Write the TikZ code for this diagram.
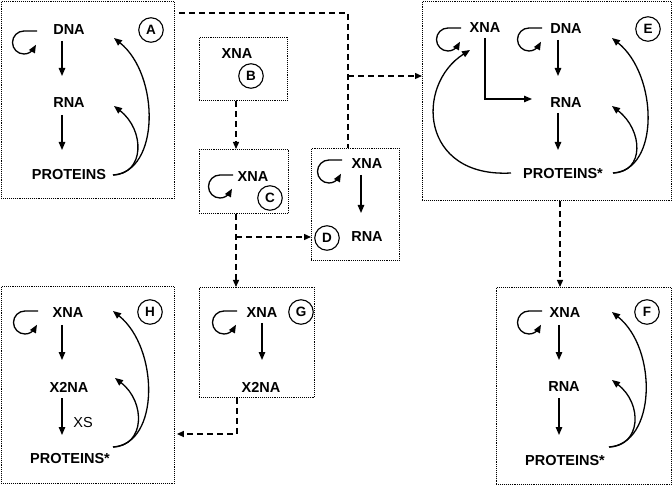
\documentclass[tikz,border=0pt]{standalone}
\usepackage{fontspec}
\setmainfont{Liberation Sans}
\usetikzlibrary{arrows.meta}
\newcommand\drawselfloop[1]{\draw[arr,shift={#1}] (0,0) -- (-13,0)
     .. controls (-19.35,0) and (-24.5,5.15) .. (-24.5,11.5)
     .. controls (-24.5,17.85) and (-19.35,23) .. (-13,23)
     .. controls (-8.89,23) and (-5.09,20.81) .. (-3.04,17.25) -- (-1.04,13.79);}
\begin{document}
\begin{tikzpicture}[x=1pt,y=-1pt,
  box/.style={draw, densely dotted, line width=0.9pt, anchor=north west, inner sep=0pt},
  lbl/.style={font=\bfseries\fontsize{14.5}{16}\selectfont, inner sep=0pt},
  note/.style={font=\fontsize{14.5}{16}\selectfont, inner sep=0pt},
  tag/.style={draw, circle, line width=1.1pt, minimum size=24.5pt, inner sep=0pt, font=\bfseries\fontsize{13.5}{15}\selectfont},
  arr/.style={line width=1.3pt, -{Triangle[length=8pt,width=6.5pt]}},
  dline/.style={line width=1.3pt, dash pattern=on 6pt off 4pt},
  darr/.style={dline, -{Triangle[length=7pt,width=6pt]}}
]
\useasboundingbox (0,0) rectangle (672,486);

% ---------- A
\node[box, minimum width=173pt, minimum height=197pt] (A) at (1,1) {};
\node[lbl] (dA) at (69,30) {DNA};
\node[lbl] (rA) at (69,103) {RNA};
\node[lbl] (pA) at (69,175) {PROTEINS};
\node[tag] (tA) at (151,30) {A};
\drawselfloop{(37,31)}
\draw[arr] ([shift={(-7,11)}]dA.center) -- ([shift={(-7,-27)}]rA.center);
\draw[arr] ([shift={(-7,12)}]rA.center) -- ([shift={(-7,-25)}]pA.center);
\draw[arr] ([shift={(44,0)}]pA.center) .. controls +(47,-3) and +(46,37) .. ([shift={(45,8)}]dA.center);
\draw[arr] ([shift={(44,0)}]pA.center) .. controls +(32,-1) and +(31,24) .. ([shift={(45,3)}]rA.center);

% ---------- B
\node[box, minimum width=88pt, minimum height=63pt] (B) at (199,37) {};
\node[lbl] (xB) at (237,54) {XNA};
\node[tag] (tB) at (251,76) {B};

% ---------- C
\node[box, minimum width=89pt, minimum height=64pt] (C) at (199,149) {};
\node[lbl] (xC) at (253,177) {XNA};
\node[tag] (tC) at (270,198) {C};
\drawselfloop{(233,175)}

% ---------- D
\node[box, minimum width=88pt, minimum height=112pt] (D) at (311,148) {};
\node[lbl] (xD) at (367,164) {XNA};
\node[lbl] (rD) at (367,237) {RNA};
\node[tag] (tD) at (327,238) {D};
\drawselfloop{(342,160)}
\draw[arr] ([shift={(-6,11)}]xD.center) -- ([shift={(-6,-24)}]rD.center);

% ---------- E
\node[box, minimum width=249pt, minimum height=199pt] (E) at (422,1) {};
\node[lbl] (xE) at (485,28) {XNA};
\node[lbl] (dE) at (566,29) {DNA};
\node[lbl] (rE) at (566,103) {RNA};
\node[lbl] (pE) at (563,174) {PROTEINS*};
\node[tag] (tE) at (648,29) {E};
\drawselfloop{(461,28)}
\drawselfloop{(542,28)}
\draw[arr] ([shift={(-8,11)}]dE.center) -- ([shift={(-8,-27)}]rE.center);
\draw[arr] ([shift={(-8,10)}]rE.center) -- ([shift={(-5,-24)}]pE.center);
\draw[arr] ([shift={(0,10)}]xE.center) |- ([shift={(-34,-4)}]rE.center);
\draw[arr] ([shift={(-52,-1)}]pE.center) .. controls +(-91,5) and +(-55,35) .. ([shift={(-15,22)}]xE.center);
\draw[arr] ([shift={(50,-1)}]pE.center) .. controls +(47,-3) and +(46,37) .. ([shift={(46,9)}]dE.center);
\draw[arr] ([shift={(50,-1)}]pE.center) .. controls +(32,-1) and +(31,24) .. ([shift={(46,3)}]rE.center);

% ---------- F
\node[box, minimum width=175pt, minimum height=197pt] (F) at (496,287) {};
\node[lbl] (xF) at (565,313) {XNA};
\node[lbl] (rF) at (564,387) {RNA};
\node[lbl] (pF) at (565,461) {PROTEINS*};
\node[tag] (tF) at (647,312) {F};
\drawselfloop{(542,311)}
\draw[arr] ([shift={(-6,12)}]xF.center) -- ([shift={(-5,-27)}]rF.center);
\draw[arr] ([shift={(-5,11)}]rF.center) -- ([shift={(-6,-26)}]pF.center);
\draw[arr] ([shift={(44,-14)}]pF.center) .. controls +(47,-3) and +(46,37) .. ([shift={(47,-1)}]xF.center);
\draw[arr] ([shift={(44,-14)}]pF.center) .. controls +(32,-1) and +(31,24) .. ([shift={(48,-7)}]rF.center);

% ---------- G
\node[box, minimum width=115pt, minimum height=110pt] (G) at (199,287) {};
\node[lbl] (xG) at (262,313) {XNA};
\node[lbl] (yG) at (261,387) {X2NA};
\node[tag] (tG) at (301,312) {G};
\drawselfloop{(237,311)}
\draw[arr] ([shift={(0,10)}]xG.center) -- ([shift={(1,-27)}]yG.center);

% ---------- H
\node[box, minimum width=173pt, minimum height=197pt] (H) at (1,286) {};
\node[lbl] (xH) at (68,313) {XNA};
\node[lbl] (yH) at (69,387) {X2NA};
\node[lbl] (pH) at (70,459) {PROTEINS*};
\node[note] (sH) at (83,423) {XS};
\node[tag] (tH) at (150,312) {H};
\drawselfloop{(38,311)}
\draw[arr] ([shift={(-6,12)}]xH.center) -- ([shift={(-7,-27)}]yH.center);
\draw[arr] ([shift={(-7,11)}]yH.center) -- ([shift={(-8,-24)}]pH.center);
\draw[arr] ([shift={(43,-12)}]pH.center) .. controls +(47,-3) and +(46,37) .. ([shift={(45,-2)}]xH.center);
\draw[arr] ([shift={(43,-12)}]pH.center) .. controls +(32,-1) and +(31,24) .. ([shift={(46,-9)}]yH.center);

% ---------- dashed connectors
\coordinate (jA) at (348,76);
\coordinate (jC) at (236,237);
\coordinate (jE) at (560,240);
\coordinate (jG) at (237,434);
\draw[dline] ([shift={(4,12)}]A.north east) -| (jA |- D.north);
\draw[darr] (jA) -- (jA -| E.west);
\draw[darr] (B.south -| jC) -- (C.north -| jC);
\draw[darr] (C.south -| jC) -- (G.north -| jC);
\draw[darr] (jC) -- (jC -| D.west);
\draw[darr] (E.south -| jE) -- (F.north -| jE);
\draw[darr] (G.south -| jG) |- ([xshift=2pt]jG -| H.east);
\end{tikzpicture}
\end{document}
